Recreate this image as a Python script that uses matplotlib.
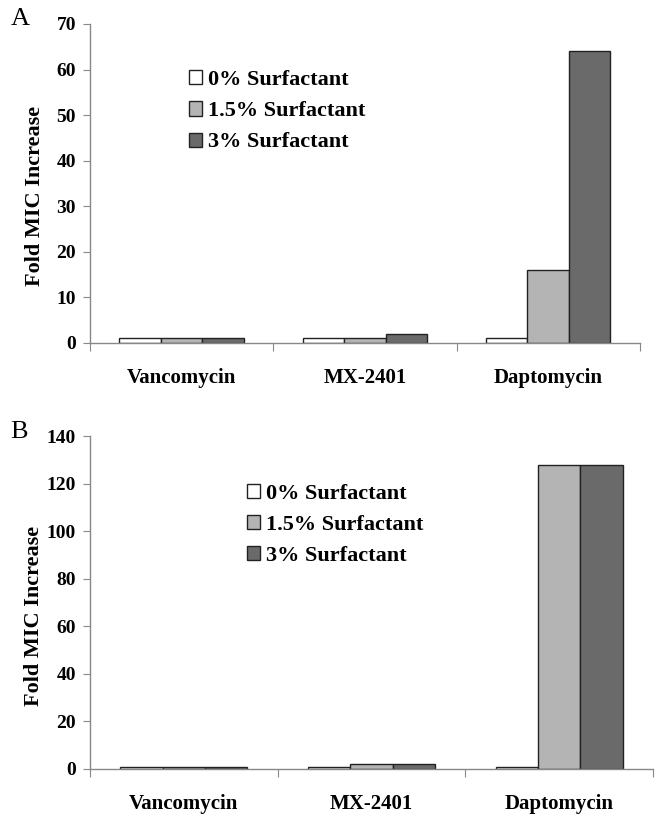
import numpy as np
import matplotlib.pyplot as plt

drugs = ["Vancomycin", "MX-2401", "Daptomycin"]
series = ["0% Surfactant", "1.5% Surfactant", "3% Surfactant"]
colors = ["#ffffff", "#b4b4b4", "#6a6a6a"]

# panel A values (rows = surfactant level)
vals_a = [[1, 1, 1],
          [1, 1, 16],
          [1, 2, 64]]
# panel B values
vals_b = [[1, 1, 1],
          [1, 2, 128],
          [1, 2, 128]]

plt.rcParams['font.family'] = ['Liberation Serif', 'DejaVu Serif']

fig = plt.figure(figsize=(6.61, 8.16), dpi=100)


def panel(rect, vals, ymax, ystep, leg_xy, letter, letter_xy):
    ax = fig.add_axes(rect)
    x = np.arange(len(drugs))
    w = 0.226
    for i, (name, c) in enumerate(zip(series, colors)):
        ax.bar(x + (i - 1) * w, vals[i], w, color=c, edgecolor="#222222",
               linewidth=1.0, label=name)
    ax.set_xlim(-0.5, len(drugs) - 0.5)
    ax.set_ylim(0, ymax)
    ax.set_yticks(np.arange(0, ymax + 1, ystep))
    ax.set_xticks(np.arange(-0.5, len(drugs)), [])
    ax.set_xticks(x, drugs, minor=True)
    ax.tick_params(axis="x", which="major", length=6, color="#888888", direction="out")
    ax.tick_params(axis="x", which="minor", length=0, pad=18, labelsize=15)
    ax.tick_params(axis="y", length=5, color="#888888", labelsize=14, pad=5)
    for lab in ax.get_xticklabels(minor=True) + ax.get_yticklabels():
        lab.set_fontweight("bold")
    for s in ["top", "right"]:
        ax.spines[s].set_visible(False)
    for s in ["left", "bottom"]:
        ax.spines[s].set_color("#888888")
        ax.spines[s].set_linewidth(1.0)
    ax.set_ylabel("Fold MIC Increase", fontsize=16, fontweight="bold")
    ax.yaxis.set_label_coords(-0.082, 0.46)
    ax.legend(loc="upper left", bbox_to_anchor=leg_xy, frameon=False,
              prop={"size": 16, "weight": "bold"}, handlelength=0.6,
              handleheight=0.6, handletextpad=0.25, labelspacing=0.5,
              borderaxespad=0, borderpad=0)
    fig.text(letter_xy[0], letter_xy[1], letter, fontsize=19, ha="left", va="center")
    return ax


panel([0.136, 0.5797, 0.832, 0.3909], vals_a, 70, 10, (0.18, 0.855), "A", (0.016, 0.977))
panel([0.136, 0.0576, 0.852, 0.408], vals_b, 140, 20, (0.279, 0.857), "B", (0.016, 0.47))

fig.savefig("out.png", dpi=100)
